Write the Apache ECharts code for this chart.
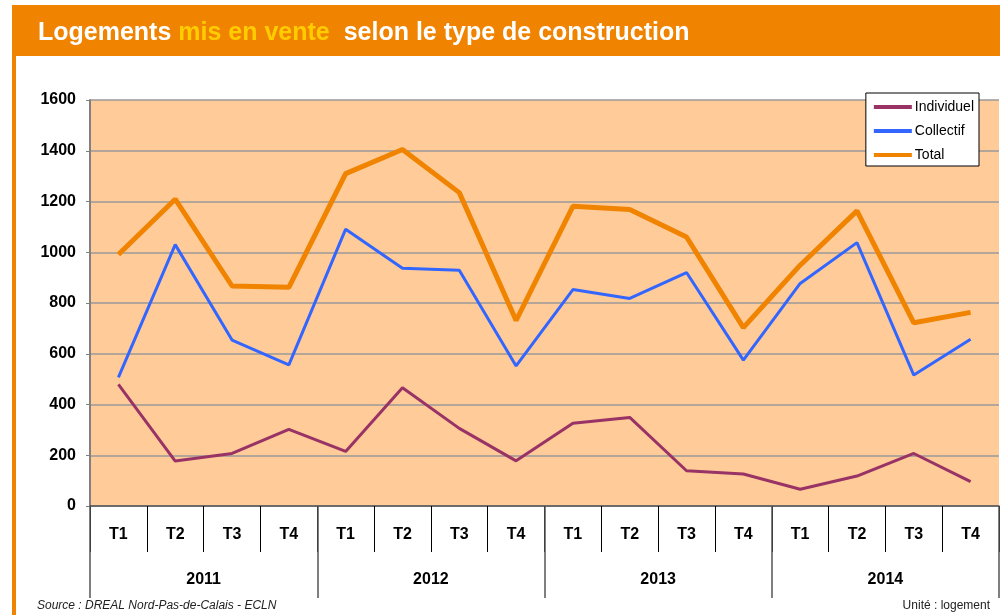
<!DOCTYPE html>
<html>
<head>
<meta charset="utf-8">
<script src="https://cdn.jsdelivr.net/npm/echarts@6/dist/echarts.min.js"></script>
<style>
  html, body { margin: 0; padding: 0; background: #fff; }
  #chart { width: 1000px; height: 615px; }
</style>
</head>
<body>
<div id="chart"></div>
<script>
// données
const quarters = ['T1', 'T2', 'T3', 'T4', 'T1', 'T2', 'T3', 'T4', 'T1', 'T2', 'T3', 'T4', 'T1', 'T2', 'T3', 'T4'];
const years = ['2011', '2012', '2013', '2014'];
const individuel = [479, 177, 207, 302, 215, 466, 306, 178, 326, 349, 139, 126, 66, 118, 207, 96];
const collectif = [507, 1030, 654, 556, 1091, 937, 929, 552, 853, 818, 920, 575, 877, 1038, 516, 657];
const total = [991, 1209, 867, 862, 1310, 1405, 1235, 731, 1181, 1168, 1060, 703, 949, 1163, 722, 763];
const yTicks = [0, 200, 400, 600, 800, 1000, 1200, 1400, 1600];

const chart = echarts.init(document.getElementById('chart'));

const orange = '#F08300';

chart.setOption({
  animation: false,
  textStyle: { fontFamily: 'Liberation Sans, Arial, sans-serif' },
  title: {
    left: 33,
    top: 13,
    text: '{a|Logements }{b|mis en vente}{a|  selon le type de construction}',
    textStyle: {
      rich: {
        a: { color: '#fff', fontSize: 25, fontWeight: 'bold', lineHeight: 30 },
        b: { color: '#FFCC00', fontSize: 25, fontWeight: 'bold', lineHeight: 30 }
      }
    }
  },
  graphic: [
    // bandeau du titre
    { type: 'rect', z: -1, shape: { x: 12, y: 5, width: 988, height: 51 }, style: { fill: orange } },
    // bordure gauche
    { type: 'rect', z: -1, shape: { x: 12, y: 56, width: 4, height: 560 }, style: { fill: orange } },
    {
      type: 'text', left: 37, top: 600,
      style: { text: 'Source : DREAL Nord-Pas-de-Calais - ECLN', fontSize: 12, fontStyle: 'italic', fill: '#222', fontFamily: 'Liberation Sans' }
    },
    {
      type: 'text', right: 10, top: 600,
      style: { text: 'Unité : logement', fontSize: 12, fill: '#222', fontFamily: 'Liberation Sans' }
    }
  ],
  legend: {
    right: 21,
    top: 93,
    orient: 'vertical',
    backgroundColor: '#fff',
    borderColor: '#000',
    borderWidth: 1,
    borderRadius: 0,
    padding: [7, 5, 4, 8],
    itemWidth: 38,
    itemHeight: 4,
    itemGap: 10,
    icon: 'rect',
    textStyle: { color: '#000', fontSize: 14, padding: [0, 0, 0, -2] },
    data: ['Individuel', 'Collectif', 'Total']
  },
  grid: {
    left: 90,
    right: 1,
    top: 100,
    bottom: 109,
    show: true,
    backgroundColor: '#FFCC99',
    borderWidth: 0
  },
  xAxis: [
    {
      type: 'category',
      data: quarters,
      position: 'bottom',
      axisLine: { show: true, lineStyle: { color: '#555', width: 1.5 } },
      axisTick: { show: true, interval: 0, length: 46, lineStyle: { color: '#000', width: 1 } },
      axisLabel: { interval: 0, color: '#000', fontSize: 16, fontWeight: 'bold', margin: 21 }
    },
    {
      type: 'category',
      data: years,
      position: 'bottom',
      axisLine: { show: false },
      axisTick: { show: true, interval: 0, length: 92, lineStyle: { color: '#555', width: 1.5 } },
      axisLabel: { interval: 0, color: '#000', fontSize: 16, fontWeight: 'bold', margin: 66 }
    }
  ],
  yAxis: {
    type: 'value',
    min: yTicks[0],
    max: yTicks[yTicks.length - 1],
    interval: 200,
    axisLine: { show: true, lineStyle: { color: '#808080', width: 2 } },
    axisTick: { show: true, length: 4, lineStyle: { color: '#808080' } },
    splitLine: { show: true, lineStyle: { color: '#9a9a9a', width: 1.5 } },
    axisLabel: {
      color: '#000', fontSize: 16, fontWeight: 'bold', margin: 14,
      formatter: function (v) { return String(v); }
    }
  },
  series: [
    {
      name: 'Individuel', type: 'line', data: individuel,
      symbol: 'none', color: '#993366',
      lineStyle: { color: '#993366', width: 3 }
    },
    {
      name: 'Collectif', type: 'line', data: collectif,
      symbol: 'none', color: '#3366FF',
      lineStyle: { color: '#3366FF', width: 3 }
    },
    {
      name: 'Total', type: 'line', data: total,
      symbol: 'none', color: orange,
      lineStyle: { color: orange, width: 5 }
    }
  ]
});
</script>
</body>
</html>
